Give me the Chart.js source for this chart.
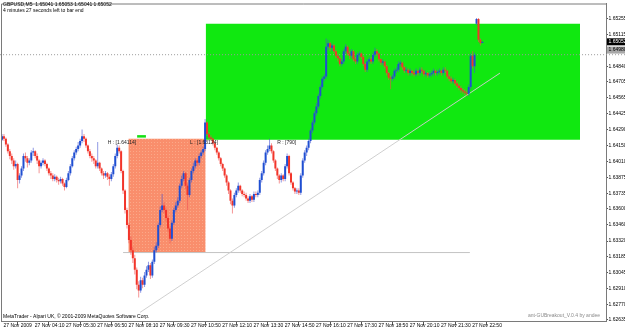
<!DOCTYPE html>
<html>
<head>
<meta charset="utf-8">
<script src="https://cdn.jsdelivr.net/npm/chart.js@4.4.0/dist/chart.umd.min.js"></script>
<style>
  html, body { margin: 0; padding: 0; background: #fff; }
</style>
</head>
<body>
<canvas id="chart" width="625" height="330"></canvas>
<script>
// GBPUSD M5, 27 Nov 2009, one entry per bar starting 02:50
const opens = [
  1.6420,1.6423,1.6421,1.6416,1.6410,1.6406,1.6402,1.6397,1.6399,1.6385,
  1.6389,1.6395,1.6406,1.6404,1.6400,1.6402,1.6409,1.6410,1.6406,1.6402,
  1.6397,1.6400,1.6402,1.6399,1.6395,1.6391,1.6389,1.6386,1.6388,1.6385,
  1.6384,1.6386,1.6382,1.6379,1.6385,1.6391,1.6397,1.6404,1.6409,1.6412,
  1.6415,1.6419,1.6423,1.6421,1.6415,1.6410,1.6406,1.6404,1.6402,1.6397,
  1.6400,1.6395,1.6391,1.6389,1.6391,1.6388,1.6386,1.6390,1.6397,1.6406,
  1.6413,1.6410,1.6393,1.6376,1.6359,1.6346,1.6333,1.6324,1.6317,1.6307,
  1.6294,1.6289,1.6298,1.6294,1.6302,1.6307,1.6311,1.6302,1.6314,1.6324,
  1.6328,1.6346,1.6359,1.6363,1.6359,1.6352,1.6343,1.6334,1.6348,1.6359,
  1.6363,1.6367,1.6380,1.6386,1.6391,1.6380,1.6372,1.6385,1.6393,1.6397,
  1.6402,1.6400,1.6406,1.6409,1.6412,1.6435,1.6425,1.6422,1.6421,1.6417,
  1.6413,1.6409,1.6404,1.6399,1.6395,1.6389,1.6383,1.6376,1.6367,1.6363,
  1.6372,1.6376,1.6380,1.6376,1.6373,1.6372,1.6369,1.6367,1.6371,1.6368,
  1.6373,1.6372,1.6374,1.6385,1.6391,1.6400,1.6409,1.6412,1.6415,1.6410,
  1.6402,1.6395,1.6389,1.6385,1.6389,1.6386,1.6397,1.6406,1.6391,1.6383,
  1.6378,1.6375,1.6376,1.6374,1.6389,1.6402,1.6409,1.6413,1.6419,1.6428,
  1.6435,1.6443,1.6449,1.6458,1.6466,1.6473,1.6475,1.6501,1.6504,1.6500,
  1.6502,1.6497,1.6493,1.6491,1.6486,1.6488,1.6497,1.6501,1.6495,1.6493,
  1.6497,1.6490,1.6488,1.6494,1.6495,1.6492,1.6486,1.6481,1.6488,1.6490,
  1.6488,1.6494,1.6497,1.6495,1.6490,1.6487,1.6488,1.6484,1.6478,1.6474,
  1.6473,1.6475,1.6480,1.6481,1.6486,1.6487,1.6483,1.6480,1.6481,1.6478,
  1.6480,1.6478,1.6477,1.6480,1.6478,1.6481,1.6480,1.6477,1.6478,1.6476,
  1.6477,1.6478,1.6480,1.6478,1.6479,1.6480,1.6478,1.6481,1.6480,1.6475,
  1.6473,1.6471,1.6472,1.6469,1.6467,1.6465,1.6463,1.6462,1.6461,1.6460,
  1.6466,1.6493,1.6484,1.6521,1.6525,1.6507,1.65041
];
const highs = [
  1.6425,1.6425,1.6422,1.6417,1.6412,1.6408,1.6404,1.6402,1.6400,1.6391,
  1.6397,1.6408,1.6409,1.6406,1.6404,1.6411,1.6413,1.6411,1.6408,1.6403,
  1.6402,1.6404,1.6403,1.6400,1.6396,1.6393,1.6391,1.6390,1.6389,1.6387,
  1.6388,1.6387,1.6383,1.6387,1.6393,1.6399,1.6406,1.6411,1.6414,1.6418,
  1.6421,1.6429,1.6425,1.6422,1.6416,1.6412,1.6408,1.6406,1.6403,1.6418,
  1.6401,1.6396,1.6393,1.6393,1.6392,1.6390,1.6392,1.6399,1.6408,1.6416,
  1.6415,1.6411,1.6394,1.6377,1.6361,1.6348,1.6336,1.6327,1.6320,1.6309,
  1.6297,1.6301,1.6300,1.6305,1.6310,1.6314,1.6313,1.6316,1.6327,1.6331,
  1.6348,1.6362,1.6373,1.6366,1.6361,1.6354,1.6345,1.6350,1.6361,1.6366,
  1.6370,1.6382,1.6389,1.6393,1.6392,1.6382,1.6387,1.6395,1.6400,1.6404,
  1.6404,1.6408,1.6411,1.6414,1.6438,1.6436,1.6427,1.6424,1.6422,1.6418,
  1.6414,1.6410,1.6405,1.6400,1.6396,1.6390,1.6384,1.6377,1.6369,1.6374,
  1.6378,1.6383,1.6381,1.6377,1.6375,1.6374,1.6371,1.6373,1.6372,1.6375,
  1.6375,1.6376,1.6387,1.6393,1.6402,1.6411,1.6415,1.6421,1.6417,1.6411,
  1.6403,1.6396,1.6390,1.6391,1.6390,1.6399,1.6408,1.6407,1.6392,1.6384,
  1.6379,1.6378,1.6378,1.6391,1.6404,1.6411,1.6415,1.6421,1.6430,1.6437,
  1.6445,1.6452,1.6460,1.6468,1.6475,1.6477,1.6508,1.6507,1.6505,1.6504,
  1.6503,1.6498,1.6495,1.6492,1.6490,1.6499,1.6503,1.6502,1.6497,1.6499,
  1.6498,1.6492,1.6496,1.6497,1.6496,1.6493,1.6487,1.6490,1.6492,1.6492,
  1.6496,1.6500,1.6499,1.6496,1.6491,1.6490,1.6489,1.6485,1.6479,1.6476,
  1.6477,1.6482,1.6483,1.6488,1.6489,1.6488,1.6484,1.6483,1.6482,1.6482,
  1.6481,1.6480,1.6482,1.6481,1.6483,1.6483,1.6481,1.6480,1.6479,1.6479,
  1.6480,1.6482,1.6481,1.6481,1.6482,1.6481,1.6483,1.6483,1.6481,1.6477,
  1.6475,1.6474,1.6473,1.6471,1.6469,1.6467,1.6465,1.6464,1.6463,1.6468,
  1.6495,1.6497,1.6496,1.6526,1.6526,1.6508,1.65053
];
const lows = [
  1.6419,1.6419,1.6414,1.6408,1.6403,1.6399,1.6394,1.6395,1.6378,1.6382,
  1.6387,1.6393,1.6401,1.6396,1.6398,1.6400,1.6406,1.6404,1.6399,1.6391,
  1.6395,1.6398,1.6397,1.6393,1.6389,1.6386,1.6384,1.6384,1.6383,1.6381,
  1.6382,1.6380,1.6376,1.6378,1.6384,1.6389,1.6396,1.6402,1.6407,1.6410,
  1.6413,1.6417,1.6418,1.6413,1.6408,1.6404,1.6401,1.6399,1.6395,1.6395,
  1.6393,1.6389,1.6386,1.6387,1.6385,1.6380,1.6384,1.6388,1.6395,1.6404,
  1.6408,1.6391,1.6373,1.6356,1.6343,1.6330,1.6320,1.6313,1.6303,1.6290,
  1.6283,1.6287,1.6291,1.6292,1.6300,1.6305,1.6299,1.6300,1.6312,1.6322,
  1.6326,1.6344,1.6357,1.6356,1.6349,1.6340,1.6330,1.6332,1.6346,1.6357,
  1.6361,1.6365,1.6378,1.6384,1.6377,1.6359,1.6370,1.6383,1.6391,1.6395,
  1.6397,1.6398,1.6404,1.6407,1.6410,1.6423,1.6420,1.6419,1.6415,1.6411,
  1.6407,1.6402,1.6397,1.6393,1.6387,1.6380,1.6373,1.6364,1.6356,1.6361,
  1.6370,1.6374,1.6374,1.6371,1.6370,1.6367,1.6365,1.6365,1.6366,1.6366,
  1.6370,1.6370,1.6372,1.6383,1.6389,1.6398,1.6407,1.6410,1.6408,1.6400,
  1.6393,1.6386,1.6382,1.6383,1.6384,1.6384,1.6395,1.6389,1.6381,1.6376,
  1.6373,1.6373,1.6372,1.6372,1.6387,1.6400,1.6406,1.6411,1.6417,1.6426,
  1.6433,1.6441,1.6447,1.6456,1.6464,1.6471,1.6473,1.6498,1.6497,1.6497,
  1.6495,1.6491,1.6488,1.6484,1.6484,1.6486,1.6495,1.6493,1.6490,1.6491,
  1.6488,1.6486,1.6486,1.6492,1.6490,1.6484,1.6479,1.6479,1.6486,1.6486,
  1.6486,1.6492,1.6493,1.6488,1.6485,1.6485,1.6482,1.6476,1.6472,1.6464,
  1.6471,1.6473,1.6478,1.6479,1.6484,1.6481,1.6478,1.6478,1.6476,1.6476,
  1.6476,1.6475,1.6475,1.6476,1.6476,1.6478,1.6475,1.6475,1.6474,1.6474,
  1.6475,1.6476,1.6476,1.6476,1.6477,1.6476,1.6476,1.6478,1.6473,1.6471,
  1.6469,1.6469,1.6467,1.6465,1.6463,1.6461,1.6460,1.6459,1.6458,1.6458,
  1.6464,1.6482,1.6478,1.6520,1.6505,1.6502,1.65041
];
const closes = [
  1.6423,1.6421,1.6416,1.6410,1.6406,1.6402,1.6397,1.6399,1.6385,1.6389,
  1.6395,1.6406,1.6404,1.6400,1.6402,1.6409,1.6410,1.6406,1.6402,1.6397,
  1.6400,1.6402,1.6399,1.6395,1.6391,1.6389,1.6386,1.6388,1.6385,1.6384,
  1.6386,1.6382,1.6379,1.6385,1.6391,1.6397,1.6404,1.6409,1.6412,1.6415,
  1.6419,1.6423,1.6421,1.6415,1.6410,1.6406,1.6404,1.6402,1.6397,1.6400,
  1.6395,1.6391,1.6389,1.6391,1.6388,1.6386,1.6390,1.6397,1.6406,1.6413,
  1.6410,1.6393,1.6376,1.6359,1.6346,1.6333,1.6324,1.6317,1.6307,1.6294,
  1.6289,1.6298,1.6294,1.6302,1.6307,1.6311,1.6302,1.6314,1.6324,1.6328,
  1.6346,1.6359,1.6363,1.6359,1.6352,1.6343,1.6334,1.6348,1.6359,1.6363,
  1.6367,1.6380,1.6386,1.6391,1.6380,1.6372,1.6385,1.6393,1.6397,1.6402,
  1.6400,1.6406,1.6409,1.6412,1.6435,1.6425,1.6422,1.6421,1.6417,1.6413,
  1.6409,1.6404,1.6399,1.6395,1.6389,1.6383,1.6376,1.6367,1.6363,1.6372,
  1.6376,1.6380,1.6376,1.6373,1.6372,1.6369,1.6367,1.6371,1.6368,1.6373,
  1.6372,1.6374,1.6385,1.6391,1.6400,1.6409,1.6412,1.6415,1.6410,1.6402,
  1.6395,1.6389,1.6385,1.6389,1.6386,1.6397,1.6406,1.6391,1.6383,1.6378,
  1.6375,1.6376,1.6374,1.6389,1.6402,1.6409,1.6413,1.6419,1.6428,1.6435,
  1.6443,1.6449,1.6458,1.6466,1.6473,1.6475,1.6501,1.6504,1.6500,1.6502,
  1.6497,1.6493,1.6491,1.6486,1.6488,1.6497,1.6501,1.6495,1.6493,1.6497,
  1.6490,1.6488,1.6494,1.6495,1.6492,1.6486,1.6481,1.6488,1.6490,1.6488,
  1.6494,1.6497,1.6495,1.6490,1.6487,1.6488,1.6484,1.6478,1.6474,1.6473,
  1.6475,1.6480,1.6481,1.6486,1.6487,1.6483,1.6480,1.6481,1.6478,1.6480,
  1.6478,1.6477,1.6480,1.6478,1.6481,1.6480,1.6477,1.6478,1.6476,1.6477,
  1.6478,1.6480,1.6478,1.6479,1.6480,1.6478,1.6481,1.6480,1.6475,1.6473,
  1.6471,1.6472,1.6469,1.6467,1.6465,1.6463,1.6462,1.6461,1.6460,1.6466,
  1.6493,1.6484,1.6494,1.6525,1.6507,1.6504,1.65052
];

// time axis: bar index of each label and its text
const timeTickBars = [0, 16, 32, 48, 64, 80, 96, 112, 128, 144, 160, 176, 192, 208, 224, 240];
const timeLabels = ['27 Nov 2009', '27 Nov 04:10', '27 Nov 05:30', '27 Nov 06:50', '27 Nov 08:10',
  '27 Nov 09:30', '27 Nov 10:50', '27 Nov 12:10', '27 Nov 13:30', '27 Nov 14:50', '27 Nov 16:10',
  '27 Nov 17:30', '27 Nov 18:50', '27 Nov 20:10', '27 Nov 21:30', '27 Nov 22:50'];

// price axis
const priceTicks = [1.65255, 1.65115, 1.64980, 1.64840, 1.64705, 1.64565, 1.64425, 1.64290, 1.64150, 1.64010,
  1.63875, 1.63735, 1.63600, 1.63460, 1.63320, 1.63185, 1.63045, 1.62910, 1.62770, 1.62635];
const priceLabels = ['1.65255', '1.65115', '1.64980', '1.64840', '1.64705', '1.64565', '1.64425', '1.64290', '1.64150', '1.64010',
  '1.63875', '1.63735', '1.63600', '1.63460', '1.63320', '1.63185', '1.63045', '1.62910', '1.62770', '1.62635'];

// indicator objects: [fromBar, toBar, low, high]
const asianBox = [64.7, 104.3, 1.6322, 1.6421];
const breakoutBox = [104.3, 296, 1.6420, 1.6521];
const lowLine = [62, 239.6, 1.6322];
const markLine = [69.2, 73.7, 1.6423];
const dottedLevel = [-1, 320, 1.6494];
const trendBars = [70.7, 255];
const trendPrices = [1.6270, 1.6478];

const headerText = ['GBPUSD,M5  1.65041 1.65053 1.65041 1.65052', '4 minutes 27 seconds left to bar end'];
const rangeText = ['H : [1.64114]', 'L : [1.63124]', 'R : [790]'];
const lastPrice = 1.65052;
const levelTag = 1.64980;

const FONT = '"Liberation Sans", Arial, sans-serif';
const BULL = '#1f4fd2';
const BEAR = '#f2352a';

function salmonPattern() {
  const c = document.createElement('canvas');
  c.width = 3; c.height = 3;
  const g = c.getContext('2d');
  g.fillStyle = '#f98e6c';
  g.fillRect(0, 0, 3, 3);
  g.fillStyle = '#fba888';
  g.fillRect(1, 1, 1, 1);
  return g.createPattern(c, 'repeat');
}

function hline(seg, color, width, dash, order) {
  return {
    type: 'line',
    data: [{x: seg[0], y: seg[2]}, {x: seg[1], y: seg[2]}],
    borderColor: color, borderWidth: width, borderDash: dash,
    pointRadius: 0, fill: false, order: order, clip: false
  };
}

function box(b, color, order) {
  return {
    type: 'line',
    data: [{x: b[0], y: b[3]}, {x: b[1], y: b[3]}],
    borderWidth: 0, pointRadius: 0,
    backgroundColor: color,
    fill: {value: b[2]},
    order: order
  };
}

const overlay = {
  id: 'overlay',
  beforeDraw(chart) {
    const ctx = chart.ctx;
    ctx.save();
    ctx.fillStyle = '#fff';
    ctx.fillRect(0, 0, chart.width, chart.height);
    ctx.restore();
  },
  afterDatasetsDraw(chart) {
    const {ctx, scales: {x, y}} = chart;
    ctx.save();
    ctx.font = '5px ' + FONT;
    ctx.fillStyle = '#222';
    ctx.textBaseline = 'top';
    const ly = y.getPixelForValue(asianBox[3]) + 1.5;
    ctx.fillText(rangeText[0], x.getPixelForValue(54.2), ly);
    ctx.fillText(rangeText[1], x.getPixelForValue(96.3), ly);
    ctx.fillText(rangeText[2], x.getPixelForValue(141), ly);
    ctx.restore();
  },
  afterDraw(chart) {
    const {ctx, chartArea: a, scales: {y}} = chart;
    ctx.save();
    // frame
    ctx.strokeStyle = '#7a7a7a';
    ctx.lineWidth = 1;
    ctx.beginPath();
    ctx.moveTo(a.left + 0.5, a.bottom);
    ctx.lineTo(a.left + 0.5, a.top + 0.5);
    ctx.lineTo(a.right, a.top + 0.5);
    ctx.stroke();
    // header
    ctx.font = '5px ' + FONT;
    ctx.fillStyle = '#000';
    ctx.textBaseline = 'middle';
    ctx.fillText(headerText[0], 3, 5);
    ctx.fillText(headerText[1], 3, 10.5);
    // footer
    ctx.fillText('MetaTrader - Alpari UK, \u00a9 2001-2009 MetaQuotes Software Corp.', 3, 317);
    ctx.fillStyle = '#8a8a8a';
    ctx.textAlign = 'right';
    ctx.fillText('ant-GUBreakout_V.0.4 by andee', 600, 316);
    ctx.textAlign = 'left';
    // level tag
    const gy = y.getPixelForValue(levelTag);
    ctx.fillStyle = '#a8a8a8';
    ctx.fillRect(a.right + 1, gy - 3.5, 18, 7);
    ctx.fillStyle = '#000';
    ctx.fillText(levelTag.toFixed(5), a.right + 2.5, gy);
    // last price tag
    const py = y.getPixelForValue(lastPrice);
    ctx.fillStyle = '#000';
    ctx.fillRect(a.right + 1, py - 3.5, 18, 7);
    ctx.fillStyle = '#fff';
    ctx.fillText(lastPrice.toFixed(5), a.right + 2.5, py);
    ctx.restore();
  }
};

const wickData = highs.map((h, i) => ({x: i, y: [lows[i], h]}));
const bodyData = opens.map((o, i) => ({x: i, y: [o, closes[i]]}));
const isUp = i => closes[i] >= opens[i];

new Chart(document.getElementById('chart'), {
  type: 'bar',
  data: {
    datasets: [
      {
        label: 'body', data: bodyData, order: 0, grouped: false,
        barThickness: 2, minBarLength: 1, inflateAmount: 0,
        backgroundColor: ctx => isUp(ctx.dataIndex) ? BULL : BEAR
      },
      {
        label: 'wick', data: wickData, order: 1, grouped: false,
        barThickness: 1, inflateAmount: 0,
        backgroundColor: ctx => isUp(ctx.dataIndex) ? 'rgba(70,85,210,0.6)' : 'rgba(240,80,80,0.6)'
      },
      {
        type: 'line', label: 'trend', order: 2,
        data: trendBars.map((b, i) => ({x: b, y: trendPrices[i]})),
        borderColor: 'rgba(205,205,205,0.95)', borderWidth: 1, pointRadius: 0, fill: false
      },
      hline(lowLine, '#c4c4c4', 1, [], 3),
      hline(dottedLevel, '#9a9a9a', 1, [1, 2], 3),
      hline(markLine, '#14e014', 2.5, [], 3),
      box(breakoutBox, '#10e810', 5),
      box(asianBox, salmonPattern(), 6)
    ]
  },
  options: {
    responsive: false,
    animation: false,
    devicePixelRatio: 1,
    layout: {padding: {left: 1, top: 2, right: 0, bottom: 0}},
    plugins: {legend: {display: false}, tooltip: {enabled: false}},
    scales: {
      x: {
        type: 'linear', min: -0.512, max: 309.3, offset: false,
        grid: {drawOnChartArea: false, drawTicks: true, tickLength: 4, color: '#555'},
        border: {color: '#7a7a7a'},
        afterBuildTicks: s => { s.ticks = timeTickBars.map(v => ({value: v})); },
        afterFit: s => { s.height = 9; },
        ticks: {
          autoSkip: false, maxRotation: 0, align: 'start', labelOffset: 1.5, padding: -2,
          color: '#000', font: {family: FONT, size: 5},
          callback: (v, i) => timeLabels[i]
        }
      },
      y: {
        position: 'right', min: 1.62625, max: 1.65385,
        grid: {drawOnChartArea: false, drawTicks: true, tickLength: 2, color: '#555'},
        border: {color: '#7a7a7a'},
        afterBuildTicks: s => { s.ticks = priceTicks.map(v => ({value: v})); },
        afterFit: s => { s.width = 19; },
        ticks: {
          autoSkip: false, padding: 0.5, color: '#000', font: {family: FONT, size: 5},
          callback: (v, i) => priceLabels[i]
        }
      }
    }
  },
  plugins: [overlay]
});
</script>
</body>
</html>
